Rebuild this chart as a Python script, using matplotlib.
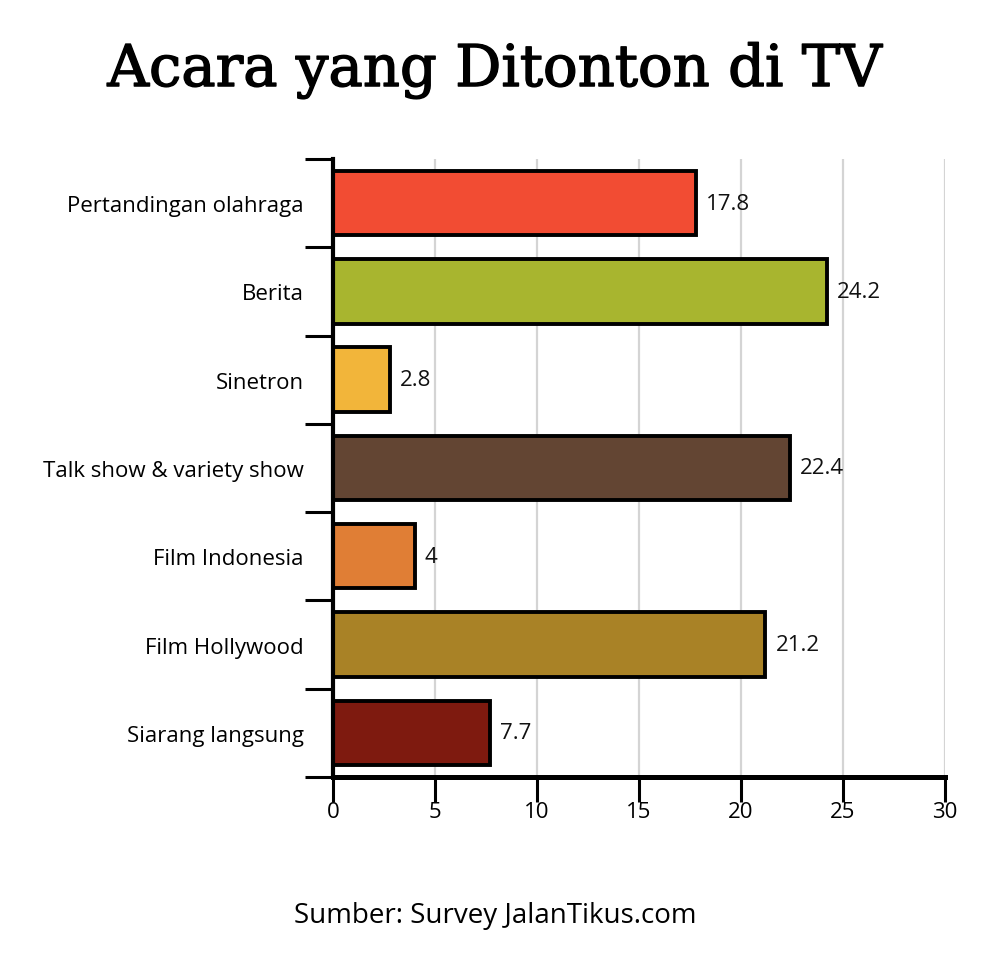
"""
Acara yang Ditonton di TV -- horizontal bar chart recreation.
"""

import matplotlib
matplotlib.use("Agg")
import matplotlib.pyplot as plt
import matplotlib.patheffects as pe
import numpy as np

categories = [
    "Pertandingan olahraga",
    "Berita",
    "Sinetron",
    "Talk show & variety show",
    "Film Indonesia",
    "Film Hollywood",
    "Siarang langsung",
]
values = [17.8, 24.2, 2.8, 22.4, 4, 21.2, 7.7]
value_labels = ["17.8", "24.2", "2.8", "22.4", "4", "21.2", "7.7"]
colors = ["#F24C33", "#A8B52F", "#F2B53A", "#634533",
          "#E07E35", "#A98226", "#7E1A0F"]
x_ticks = [0, 5, 10, 15, 20, 25, 30]

TEXT_FONT = ["Open Sans", "DejaVu Sans"]

fig = plt.figure(figsize=(9.96, 9.54), dpi=100)
ax = fig.add_axes([0.3343, 0.1845, 0.6145, 0.6478])

y = np.arange(len(categories))

# vertical grid behind the bars
for t in x_ticks[1:]:
    ax.axvline(t, color="#d4d4d4", linewidth=1.6, zorder=0)

ax.barh(y, values, height=0.73, color=colors, edgecolor="black",
        linewidth=2.8, zorder=2)

for yi, v, lab in zip(y, values, value_labels):
    ax.text(v + 0.5, yi, lab, va="center", ha="left",
            fontsize=16, family=TEXT_FONT, color="#111111")

ax.set_xlim(0, 30)
ax.set_ylim(len(categories) - 0.5, -0.5)

# category boundary ticks (major) and labels at centers (minor)
ax.set_yticks(np.arange(-0.5, len(categories)))
ax.set_yticklabels([])
ax.set_yticks(y, minor=True)
ax.set_yticklabels(categories, minor=True, fontsize=16, family=TEXT_FONT)
ax.tick_params(axis="y", which="major", direction="out", length=20,
               width=2.2, color="black")
ax.tick_params(axis="y", which="minor", length=0, pad=21)

ax.set_xticks(x_ticks)
ax.set_xticklabels([str(t) for t in x_ticks], fontsize=16, family=TEXT_FONT)
ax.tick_params(axis="x", direction="out", length=18, width=2.2, pad=-1)

for side in ("top", "right"):
    ax.spines[side].set_visible(False)
ax.spines["left"].set_linewidth(3)
ax.spines["bottom"].set_linewidth(3.6)

# slab-serif title, thickened a little to look like the original face
title = fig.text(0.497, 0.925, "Acara yang Ditonton di TV", ha="center",
                 va="center", fontsize=41.5, family=["DejaVu Serif"])
title.set_path_effects([pe.Stroke(linewidth=1.0, foreground="black"),
                        pe.Normal()])
fig.text(0.497, 0.040, "Sumber: Survey JalanTikus.com", ha="center",
         va="center", fontsize=20, family=TEXT_FONT)

fig.savefig("out.png", dpi=100)
